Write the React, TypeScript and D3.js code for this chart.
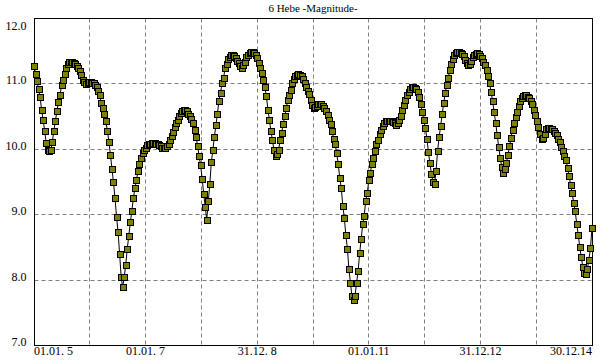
import React from "react";
import * as d3 from "d3";

const TITLE = "6 Hebe -Magnitude-";
const STEP_DAYS = 10;
const X_DOMAIN_DAYS = [0, 3650];
const GRID_DAYS = [365, 730, 1095, 1460, 1825, 2190, 2555, 2920, 3285];
const X_TICK_DAYS = [0, 730, 1460, 2190, 2920, 3650];
const X_TICK_LABELS = ["01.01. 5", "01.01. 7", "31.12. 8", "01.01.11", "31.12.12", "30.12.14"];
const Y_TICKS = [7, 8, 9, 10, 11, 12];

const magnitudes = [
  11.27, 11.15, 11.04, 10.91, 10.79, 10.59, 10.44, 10.27, 10.09, 9.98,
  9.97, 9.99, 10.11, 10.28, 10.43, 10.58, 10.72, 10.82, 10.97, 11.06,
  11.15, 11.23, 11.30, 11.33, 11.33, 11.33, 11.32, 11.30, 11.27, 11.23,
  11.19, 11.13, 11.05, 11.02, 10.99, 11.00, 11.02, 11.02, 11.01, 11.00,
  10.98, 10.95, 10.88, 10.82, 10.70, 10.62, 10.54, 10.42, 10.28, 10.11,
  9.91, 9.70, 9.49, 9.25, 8.96, 8.73, 8.40, 8.05, 7.89, 8.04,
  8.23, 8.48, 8.67, 8.88, 9.05, 9.25, 9.40, 9.52, 9.66, 9.77,
  9.87, 9.94, 9.98, 10.02, 10.06, 10.07, 10.08, 10.09, 10.09, 10.09,
  10.08, 10.07, 10.06, 10.04, 10.02, 10.02, 10.02, 10.04, 10.08, 10.13,
  10.20, 10.26, 10.33, 10.39, 10.45, 10.50, 10.55, 10.58, 10.59, 10.59,
  10.58, 10.54, 10.50, 10.46, 10.39, 10.29, 10.19, 10.05, 9.90, 9.75,
  9.54, 9.32, 9.11, 8.92, 9.20, 9.46, 9.80, 9.98, 10.19, 10.36,
  10.54, 10.74, 10.86, 11.00, 11.09, 11.23, 11.30, 11.37, 11.41, 11.43,
  11.43, 11.42, 11.39, 11.35, 11.31, 11.27, 11.24, 11.28, 11.33, 11.40,
  11.44, 11.47, 11.48, 11.48, 11.47, 11.44, 11.39, 11.32, 11.24, 11.16,
  11.05, 10.94, 10.81, 10.60, 10.44, 10.27, 10.13, 9.98, 9.90, 9.92,
  9.99, 10.13, 10.25, 10.38, 10.50, 10.62, 10.75, 10.82, 10.90, 11.00,
  11.07, 11.12, 11.13, 11.14, 11.13, 11.11, 11.07, 11.01, 10.95, 10.89,
  10.84, 10.75, 10.67, 10.63, 10.64, 10.66, 10.68, 10.69, 10.69, 10.66,
  10.62, 10.58, 10.52, 10.45, 10.38, 10.27, 10.16, 10.07, 9.94, 9.77,
  9.56, 9.40, 9.13, 8.95, 8.68, 8.48, 8.17, 7.95, 7.75, 7.69,
  7.76, 7.96, 8.13, 8.41, 8.62, 8.85, 8.98, 9.21, 9.33, 9.52,
  9.64, 9.77, 9.86, 9.97, 10.07, 10.13, 10.23, 10.29, 10.35, 10.39,
  10.42, 10.43, 10.43, 10.43, 10.43, 10.41, 10.39, 10.37, 10.40, 10.45,
  10.51, 10.59, 10.67, 10.75, 10.82, 10.87, 10.92, 10.94, 10.95, 10.93,
  10.91, 10.87, 10.80, 10.69, 10.56, 10.44, 10.32, 10.16, 9.95, 9.78,
  9.62, 9.50, 9.46, 9.67, 9.97, 10.18, 10.35, 10.53, 10.70, 10.86,
  10.98, 11.09, 11.20, 11.30, 11.38, 11.43, 11.46, 11.48, 11.48, 11.47,
  11.45, 11.42, 11.36, 11.32, 11.28, 11.30, 11.35, 11.40, 11.43, 11.45,
  11.46, 11.45, 11.42, 11.39, 11.33, 11.29, 11.21, 11.12, 11.01, 10.87,
  10.73, 10.56, 10.40, 10.21, 10.03, 9.86, 9.72, 9.64, 9.69, 9.79,
  9.91, 10.04, 10.17, 10.29, 10.40, 10.49, 10.57, 10.66, 10.73, 10.78,
  10.81, 10.82, 10.82, 10.80, 10.78, 10.74, 10.68, 10.60, 10.52, 10.42,
  10.34, 10.23, 10.16, 10.17, 10.23, 10.30, 10.32, 10.32, 10.31, 10.30,
  10.28, 10.25, 10.21, 10.16, 10.10, 10.03, 9.97, 9.90, 9.83, 9.71,
  9.59, 9.45, 9.33, 9.18, 9.05, 8.86, 8.69, 8.50, 8.35, 8.20,
  8.11, 8.09, 8.17, 8.31, 8.49, 8.80
];

const W = 600;
const H = 360;
const LEFT = 34;
const RIGHT = 592;
const TOP = 18;
const BOTTOM = 345.5;

const crisp = (v: number) => Math.floor(v) + 0.5;

export default function App() {
  const x = d3.scaleLinear().domain(X_DOMAIN_DAYS).range([LEFT, RIGHT]);
  const y = d3.scaleLinear().domain([7, 12]).range([BOTTOM, TOP]);
  const fmt = d3.format(".1f");

  const pts = magnitudes.map((m, i) => [x(i * STEP_DAYS), y(m)] as [number, number]);
  const line = d3.line<[number, number]>().x((d) => d[0]).y((d) => d[1]);

  const font = "'Times New Roman', 'Liberation Serif', serif";

  return (
    <svg
      width={W}
      height={H}
      style={{ position: "absolute", left: 0, top: 0, background: "#fff" }}
      fontFamily={font}
    >
      <rect x={0} y={0} width={W} height={H} fill="#fff" />
      <text x={(LEFT + RIGHT) / 2} y={12} fontSize={11} textAnchor="middle" fill="#000">
        {TITLE}
      </text>
      {/* grid */}
      <g stroke="#808080" strokeWidth={1} strokeDasharray="4,3" fill="none">
        {GRID_DAYS.map((d) => (
          <line key={"gx" + d} x1={crisp(x(d))} x2={crisp(x(d))} y1={crisp(y(12))} y2={crisp(y(7))} />
        ))}
        {Y_TICKS.filter((t) => t > 7 && t < 12).map((t) => (
          <line key={"gy" + t} x1={crisp(x(0))} x2={crisp(x(3650))} y1={crisp(y(t))} y2={crisp(y(t))} />
        ))}
      </g>
      {/* frame */}
      <rect
        x={crisp(x(0))}
        y={crisp(y(12))}
        width={crisp(x(3650)) - crisp(x(0))}
        height={crisp(y(7)) - crisp(y(12))}
        fill="none"
        stroke="#000"
        strokeWidth={1}
      />
      {/* y labels */}
      {Y_TICKS.map((t) => (
        <text
          key={"yl" + t}
          x={26.5}
          y={Math.max(crisp(y(t)), crisp(y(12)) + 11)}
          fontSize={12}
          textAnchor="end"
          fill="#000"
        >
          {fmt(t)}
        </text>
      ))}
      {/* x labels */}
      {X_TICK_DAYS.map((d, i) => (
        <text
          key={"xl" + d}
          x={x(d)}
          y={355}
          fontSize={12}
          textAnchor={i === 0 ? "start" : i === X_TICK_DAYS.length - 1 ? "end" : "middle"}
          fill="#000"
          style={{ whiteSpace: "pre" }}
        >
          {X_TICK_LABELS[i]}
        </text>
      ))}
      {/* series */}
      <path d={line(pts) || ""} fill="none" stroke="#000" strokeWidth={1} />
      <g fill="#808000" stroke="#000" strokeWidth={1}>
        {pts.map(([px, py], i) => (
          <rect key={i} x={Math.round(px) - 3 + 0.5} y={Math.round(py) - 3 + 0.5} width={6} height={6} />
        ))}
      </g>
    </svg>
  );
}
